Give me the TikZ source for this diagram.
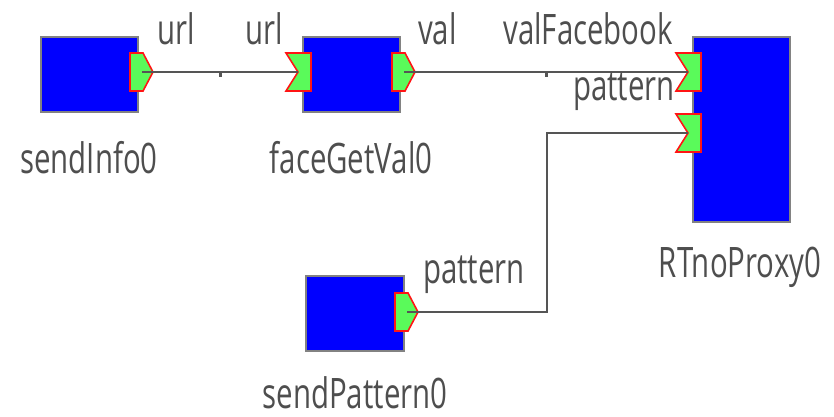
\documentclass[tikz,border=0pt]{standalone}
\usepackage{fontspec}
\setmainfont{Open Sans}
\definecolor{blkblue}{RGB}{0,0,255}
\definecolor{blkedge}{RGB}{130,130,130}
\definecolor{portgreen}{RGB}{90,250,90}
\definecolor{portred}{RGB}{255,20,20}
\definecolor{wire}{RGB}{85,85,85}
\definecolor{txt}{RGB}{78,78,78}
\newcommand\OutPort[2]{\filldraw[port] (#1,#2) -- ++(13,0) -- ++(10,19) -- ++(-10,19) -- ++(-13,0) -- cycle;}
\newcommand\InPort[2]{\filldraw[port] (#1,#2) -- ++(25,0) -- ++(0,38) -- ++(-25,0) -- ++(12,-19) -- cycle;}
\begin{document}
\begin{tikzpicture}[x=1pt,y=-1pt,
  blk/.style={draw=blkedge, line width=2.2pt, fill=blkblue, inner sep=0pt},
  port/.style={fill=portgreen, draw=portred, line width=1.6pt, line join=miter},
  wireline/.style={draw=wire, line width=2.2pt},
  lbl/.style={inner sep=0pt, text=txt, font=\fontsize{42}{50}\selectfont, xscale=0.7},
  tick/.style={fill=wire, inner sep=0pt, minimum width=3pt, minimum height=4pt}]
\useasboundingbox (0,0) rectangle (834,416);
% blocks
\node[blk, minimum width=97pt, minimum height=75pt] (A) at (89.5,74.5) {};
\node[blk, minimum width=97pt, minimum height=75pt] (B) at (351.5,74.5) {};
\node[blk, minimum width=97pt, minimum height=185pt] (C) at (741.5,129.5) {};
\node[blk, minimum width=98pt, minimum height=75pt] (D) at (355,313.5) {};
% ports
\OutPort{130}{53}
\InPort{286}{53}
\OutPort{392}{53}
\InPort{676}{53}
\InPort{676}{114}
\OutPort{395}{293}
% port connection points
\coordinate (Aout) at (142,72);
\coordinate (Bin) at (298,72);
\coordinate (Bout) at (404,72);
\coordinate (Cin1) at (688,72);
\coordinate (Cin2) at (688,133);
\coordinate (Dout) at (407,312);
\coordinate (bend1) at (547,312);
\coordinate (bend2) at (547,133);
% connectors
\draw[wireline] (Aout) -- (Bin);
\draw[wireline] (Bout) -- (Cin1);
\draw[wireline] (Dout) -- (bend1) -- (bend2) -- (Cin2);
\node[tick] (t1) at (220,75) {};
\node[tick] (t2) at (546,75) {};
% labels
\node[lbl, anchor=base west] (l1) at (157,44) {url};
\node[lbl, anchor=base east] (l2) at (283,44) {url};
\node[lbl, anchor=base west] (l3) at (418,44) {val};
\node[lbl, anchor=base east] (l4) at (673,44) {valFacebook};
\node[lbl, anchor=base east] (l5) at (675,100) {pattern};
\node[lbl, anchor=base west] (l6) at (423,283) {pattern};
\node[lbl, anchor=base] (nA) at (89,173) {sendInfo0};
\node[lbl, anchor=base] (nB) at (351,173) {faceGetVal0};
\node[lbl, anchor=base] (nC) at (740,277) {RTnoProxy0};
\node[lbl, anchor=base] (nD) at (355,408) {sendPattern0};
\end{tikzpicture}
\end{document}
